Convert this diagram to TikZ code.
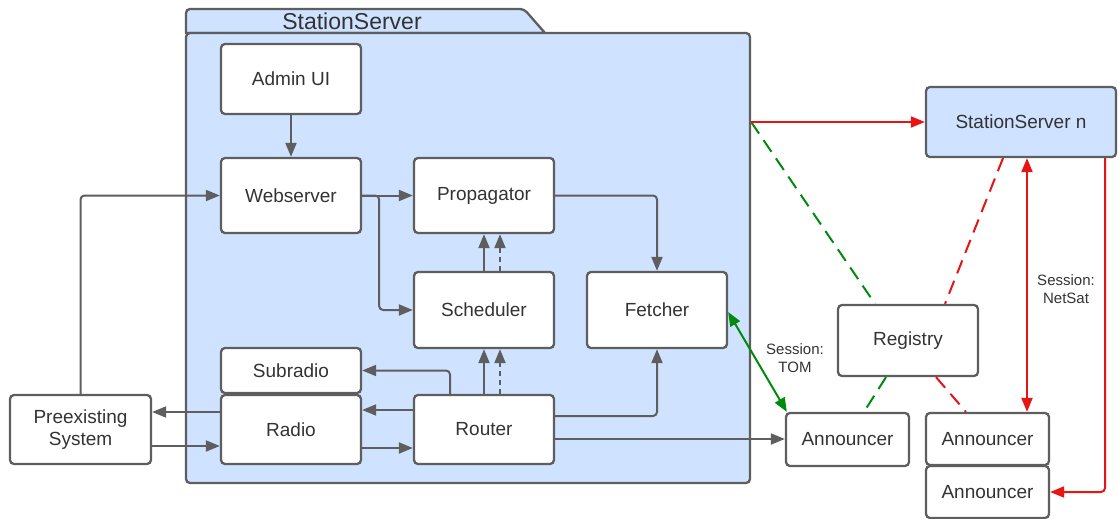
\documentclass[tikz,border=0pt]{standalone}
\usepackage{fontspec}
\setmainfont{Liberation Sans}
\usetikzlibrary{arrows.meta}
\definecolor{gline}{RGB}{94,94,94}
\definecolor{gtext}{RGB}{51,51,51}
\definecolor{bfill}{RGB}{207,226,255}
\definecolor{lred}{RGB}{232,19,19}
\definecolor{lgreen}{RGB}{0,138,14}
\tikzset{
  tip/.tip={Triangle[length=14pt,width=11pt]},
  box/.style={draw=gline, line width=2.3pt, fill=white, rounded corners=4pt,
    text=gtext, font=\fontsize{19}{22}\selectfont, align=center, inner sep=0pt},
  conn/.style={draw=gline, line width=2pt, rounded corners=4pt},
  arr/.style={conn, -tip},
  redc/.style={draw=lred, line width=2pt, rounded corners=4pt},
  redarr/.style={redc, -tip},
  grnc/.style={draw=lgreen, line width=2pt},
  lbl/.style={text=gtext, font=\fontsize{15}{18}\selectfont, align=center, inner sep=0pt},
  dsh/.style={dash pattern=on 14pt off 8pt}
}
\begin{document}
\begin{tikzpicture}[x=1pt,y=-1pt]
\useasboundingbox (0,0) rectangle (1119,519);
% folder
\draw[draw=gline, line width=2.3pt, fill=bfill] (186,33) [rounded corners=4pt] -- (186,9) -- (524,9) [sharp corners] -- (545,33) -- cycle;
\node[draw=gline, line width=2.3pt, fill=bfill, rounded corners=4pt, minimum width=564pt, minimum height=450pt, inner sep=0pt] (folder) at (468,258) {};
\node[text=gtext, font=\fontsize{23}{26}\selectfont, inner sep=0pt] (title) at (352,21) {StationServer};
% nodes
\node[box, minimum width=140pt, minimum height=70pt] (admin) at (291,79) {Admin UI};
\node[box, minimum width=140pt, minimum height=75pt] (web) at (291,195.5) {Webserver};
\node[box, minimum width=140pt, minimum height=75pt] (prop) at (484,195.5) {Propagator};
\node[box, minimum width=140pt, minimum height=76pt] (sched) at (484,310) {Scheduler};
\node[box, minimum width=140pt, minimum height=76pt] (fetch) at (657,310) {Fetcher};
\node[box, minimum width=140pt, minimum height=45pt] (subr) at (291,370.5) {Subradio};
\node[box, minimum width=140pt, minimum height=69pt] (radio) at (291,429.5) {Radio};
\node[box, minimum width=140pt, minimum height=69pt] (router) at (484,429.5) {Router};
\node[box, minimum width=141pt, minimum height=69pt] (pre) at (80.5,429.5) {Preexisting\\System};
\node[box, fill=bfill, minimum width=190pt, minimum height=70pt] (ssn) at (1021,122) {StationServer n};
\node[box, minimum width=140pt, minimum height=71pt] (reg) at (908,340.5) {Registry};
\node[box, minimum width=123pt, minimum height=53pt] (ann1) at (847.5,439.5) {Announcer};
\node[box, minimum width=123pt, minimum height=52pt] (ann2) at (987.5,439) {Announcer};
\node[box, minimum width=123pt, minimum height=52pt] (ann3) at (987.5,492) {Announcer};
% gray connectors
\draw[arr] (admin.south) -- (web.north);
\draw[arr] (web.east) -- (prop.west);
\draw[arr] (web.east) -- ([xshift=17pt]web.east) |- (sched.west);
\draw[arr] (sched.north) -- (prop.south);
\draw[arr, dash pattern=on 5pt off 4pt] ([xshift=16pt]sched.north) -- ([xshift=16pt]prop.south);
\draw[arr] (prop.east) -| (fetch.north);
\draw[arr] (router.north) -- (sched.south);
\draw[arr, dash pattern=on 5pt off 4pt] ([xshift=16pt]router.north) -- ([xshift=16pt]sched.south);
\draw[arr] ([xshift=-34pt]router.north) |- (subr.east);
\draw[arr] ([yshift=19.5pt]router.west) -- ([yshift=19.5pt]radio.east);
\draw[arr] ([yshift=-18.5pt]radio.east) -- ([yshift=-18.5pt]router.west);
\draw[arr] ([yshift=13.5pt]router.east) -| (fetch.south);
\draw[arr] ([yshift=-9.5pt]router.east) -- ([yshift=0.5pt]ann1.west);
\draw[arr] ([yshift=17.5pt]radio.west) -- ([yshift=17.5pt]pre.east);
\draw[arr] ([yshift=-16.5pt]pre.east) -- ([yshift=-16.5pt]radio.west);
\draw[arr] (pre.north) |- (web.west);
% green
\draw[grnc, tip-tip] ([yshift=-2pt]fetch.east) -- ([xshift=2pt]ann1.north west);
\node[lbl] (tom) at (795,358) {Session:\\TOM};
\draw[grnc, dsh] (folder.east |- ssn.west) -- ([xshift=-33pt]reg.north);
\draw[grnc, dsh] ([xshift=-22pt]reg.south) -- ([xshift=16.5pt]ann1.north);
% red
\draw[redarr] (folder.east |- ssn.west) -- (ssn.west);
\draw[redc, dsh] ([xshift=-18pt]ssn.south) -- ([xshift=37pt]reg.north);
\draw[redc, dsh] ([xshift=28pt]reg.south) -- ([xshift=-21.5pt]ann2.north);
\draw[redc, tip-tip] ([xshift=6pt]ssn.south) -- ([xshift=6pt]ssn.south |- ann2.north);
\node[lbl] (netsat) at (1066,289) {Session:\\NetSat};
\draw[redarr] ([xshift=84pt]ssn.south) |- (ann3.east);
\end{tikzpicture}
\end{document}
